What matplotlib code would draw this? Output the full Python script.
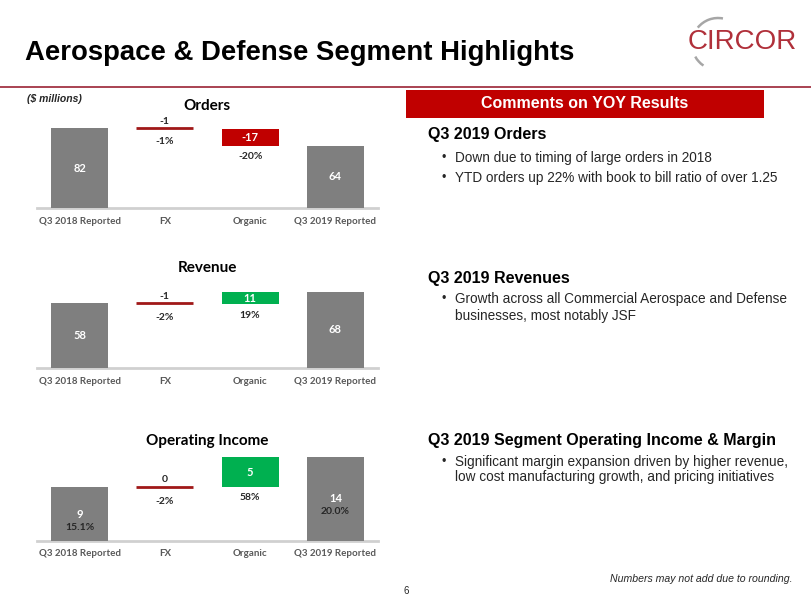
import matplotlib
matplotlib.use("Agg")
import matplotlib.pyplot as plt
from matplotlib.patches import Rectangle, Arc

# ---------------- data ----------------
categories = ["Q3 2018 Reported", "FX", "Organic", "Q3 2019 Reported"]

orders_values = [82, -1, -17, 64]
orders_pct = ["-1%", "-20%"]

revenue_values = [58, -1, 11, 68]
revenue_pct = ["-2%", "19%"]

opinc_values = [9, 0, 5, 14]
opinc_pct = ["-2%", "58%"]
opinc_margins = ["15.1%", "20.0%"]

chart_titles = ["Orders", "Revenue", "Operating Income"]

comment_heads = ["Q3 2019 Orders", "Q3 2019 Revenues",
                 "Q3 2019 Segment Operating Income & Margin"]
comment_bullets = [
    [["Down due to timing of large orders in 2018"],
     ["YTD orders up 22% with book to bill ratio of over 1.25"]],
    [["Growth across all Commercial Aerospace and Defense",
      "businesses, most notably JSF"]],
    [["Significant margin expansion driven by higher revenue,",
      "low cost manufacturing growth, and pricing initiatives"]],
]

# ---------------- styles ----------------
W, H = 811, 610
GRAY = "#7f7f7f"
RED = "#c00000"
GREEN = "#00b050"
FXRED = "#a01818"
MAROON = "#9b2335"
CFONT = "Lato"
AFONT = "Liberation Sans"

fig = plt.figure(figsize=(W / 100, H / 100), dpi=100)
fig.patch.set_facecolor("white")

bg = fig.add_axes([0, 0, 1, 1])
bg.set_xlim(0, W)
bg.set_ylim(H, 0)
bg.axis("off")

# header
bg.text(25, 53, "Aerospace & Defense Segment Highlights", fontsize=19.8,
        fontweight="bold", family=AFONT, color="black", va="center", ha="left")
bg.plot([0, W], [87, 87], color=MAROON, lw=1.2)

# logo
bg.text(742, 42, "CIRCOR", fontsize=20, family=AFONT, color="#b0303a",
        ha="center", va="center")
bg.add_patch(Arc((718, 44), 52, 52, theta1=219, theta2=281, color="#a6a6a6", lw=1.8))
bg.add_patch(Arc((718, 44), 52, 52, theta1=124, theta2=151, color="#a6a6a6", lw=1.8))

bg.text(27, 99, "($ millions)", fontsize=7.5, style="italic", fontweight="bold",
        family=AFONT, color="#262626", ha="left", va="center")

# comments box
bg.add_patch(Rectangle((406, 90), 358, 28, facecolor=RED, edgecolor="none"))
bg.text(585, 104, "Comments on YOY Results", fontsize=11.5, fontweight="bold",
        family=AFONT, color="white", ha="center", va="center")

head_y = [135, 278, 440]
line_y = [[[158], [178]], [[299, 316]], [[462, 477]]]
for hy, head, bys, bl in zip(head_y, comment_heads, line_y, comment_bullets):
    bg.text(428, hy, head, fontsize=11.5, fontweight="bold", family=AFONT,
            color="black", ha="left", va="center")
    for ys, lines in zip(bys, bl):
        bg.text(441, ys[0], "\u2022", fontsize=9, family=AFONT, color="#262626",
                ha="left", va="center")
        for y, line in zip(ys, lines):
            bg.text(455, y, line, fontsize=9.8, family=AFONT, color="#262626",
                    ha="left", va="center")

bg.text(793, 579, "Numbers may not add due to rounding.", fontsize=7.6,
        style="italic", family=AFONT, color="#262626", ha="right", va="center")
bg.text(406, 591, "6", fontsize=7, family=AFONT, color="#262626",
        ha="center", va="center")


# ---------------- waterfall charts ----------------
def waterfall(baseline_px, top_px, scale, values, pcts, title, title_px, margins=None):
    left_px, right_px = 37, 378
    ax = fig.add_axes([left_px / W, 1 - baseline_px / H,
                       (right_px - left_px) / W, (baseline_px - top_px) / H])
    ax.set_xlim(-0.5, 3.5)
    ax.set_ylim(0, (baseline_px - top_px) / scale)
    ax.axis("off")
    bw = 0.67
    start, fx, org, end = values
    # totals
    ax.bar([0, 3], [start, end], width=bw, color=GRAY, zorder=2)
    # FX line
    ax.hlines(start, 1 - bw / 2, 1 + bw / 2, color=FXRED, lw=2, zorder=3)
    # Organic bar
    ob = start + fx
    ax.bar([2], [org], bottom=[ob], width=bw, color=RED if org < 0 else GREEN, zorder=2)
    # baseline
    ax.plot([-0.5, 3.5], [0, 0], color="#d0d0d0", lw=2, clip_on=False, zorder=1)

    kw = dict(family=CFONT, fontweight="bold", ha="center", va="center",
              textcoords="offset pixels", annotation_clip=False)
    # totals labels
    for x, v, m in zip([0, 3], [start, end], margins or [None, None]):
        ax.annotate(f"{v}", (x, v / 2), xytext=(0, 0), fontsize=8, color="white", **kw)
        if m is not None:
            ax.annotate(m, (x, v / 2), xytext=(0, -13), fontsize=7.5, color="#262626", **kw)
    # FX labels
    ax.annotate(f"{fx}", (1, start), xytext=(0, 7), fontsize=7.5, color="#262626", **kw)
    ax.annotate(pcts[0], (1, start), xytext=(0, -14), fontsize=7.5, color="#262626", **kw)
    # Organic labels
    ax.annotate(f"{org}", (2, ob + org / 2), xytext=(0, 0), fontsize=8, color="white", **kw)
    ax.annotate(pcts[1], (2, min(ob, ob + org)), xytext=(0, -11), fontsize=7.5,
                color="#262626", **kw)
    # tick labels
    for i, c in enumerate(categories):
        ax.annotate(c, (i, 0), xytext=(0, -13), fontsize=7, color="#595959", **kw)
    # title
    bg.text(207, title_px, title, fontsize=11, fontweight="bold", family=CFONT,
            color="black", ha="center", va="center")
    return ax


waterfall(208, 118, 80 / 82, orders_values, orders_pct, chart_titles[0], 106)
waterfall(368, 280, 1.12, revenue_values, revenue_pct, chart_titles[1], 268)
waterfall(541, 450, 6.0, opinc_values, opinc_pct, chart_titles[2], 441, opinc_margins)

fig.savefig("out.png", dpi=100, facecolor="white")
